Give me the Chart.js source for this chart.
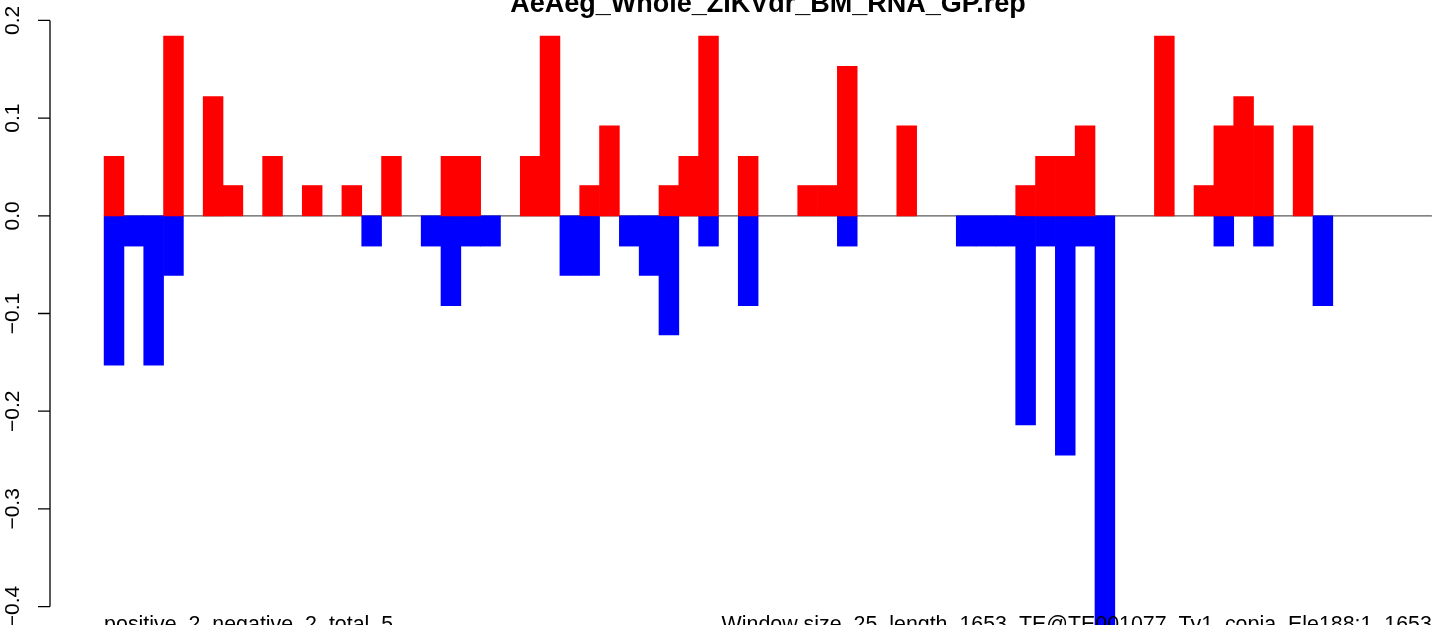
<!DOCTYPE html>
<html>
<head>
<meta charset="utf-8">
<title>AeAeg_Whole_ZIKVdr_BM_RNA_GP.rep</title>
<script src="https://cdn.jsdelivr.net/npm/chart.js@4.4.0/dist/chart.umd.min.js"></script>
<style>
  html, body { margin: 0; padding: 0; background: #fff; overflow: hidden; }
  #wrap { position: relative; width: 1444px; height: 625px; overflow: hidden; }
  #myChart { position: absolute; left: 0; top: -40px; }
</style>
</head>
<body>
<div id="wrap"><canvas id="myChart" width="1500" height="720"></canvas></div>
<script>
var title = "AeAeg_Whole_ZIKVdr_BM_RNA_GP.rep";
var leftNote = "positive_2_negative_2_total_5";
var rightNote = "Window size_25_length_1653_TE@TE001077_Ty1_copia_Ele188:1_1653";

// one value per window, 67 windows
var positive = [0.061, 0, 0, 0.184, 0, 0.122, 0.031, 0, 0.061, 0,
                0.031, 0, 0.031, 0, 0.061, 0, 0, 0.061, 0.061, 0,
                0, 0.061, 0.184, 0, 0.031, 0.092, 0, 0, 0.031, 0.061,
                0.184, 0, 0.061, 0, 0, 0.031, 0.031, 0.153, 0, 0,
                0.092, 0, 0, 0, 0, 0, 0.031, 0.061, 0.061, 0.092,
                0, 0, 0, 0.184, 0, 0.031, 0.092, 0.122, 0.092, 0,
                0.092, 0, 0, 0, 0, 0, 0];
var negative = [-0.153, -0.031, -0.153, -0.061, 0, 0, 0, 0, 0, 0,
                0, 0, 0, -0.031, 0, 0, -0.031, -0.092, -0.031, -0.031,
                0, 0, 0, -0.061, -0.061, 0, -0.031, -0.061, -0.122, 0,
                -0.031, 0, -0.092, 0, 0, 0, 0, -0.031, 0, 0,
                0, 0, 0, -0.031, -0.031, -0.031, -0.214, -0.031, -0.245, -0.031,
                -0.428, 0, 0, 0, 0, 0, -0.031, 0, -0.031, 0,
                0, -0.092, 0, 0, 0, 0, 0];
var yTicks = [-0.4, -0.3, -0.2, -0.1, 0.0, 0.1, 0.2];
var yTickLabels = ["\u22120.4", "\u22120.3", "\u22120.2", "\u22120.1", "0.0", "0.1", "0.2"];

var FONT = '"Liberation Sans", Arial, Helvetica, sans-serif';

function toPoints(arr) {
    return arr.map(function(v, i) { return { x: i, y: v === 0 ? null : v }; });
}

// R style axis, title and margin notes
var rDecor = {
    id: 'rDecor',
    afterDraw: function(chart) {
        var c = chart.ctx, xs = chart.scales.x, ys = chart.scales.y, area = chart.chartArea;
        var ax = area.left - 1;
        c.save();
        c.strokeStyle = '#000';
        c.lineWidth = 1.3;
        c.beginPath();
        c.moveTo(ax, ys.getPixelForValue(yTicks[0]));
        c.lineTo(ax, ys.getPixelForValue(yTicks[yTicks.length - 1]));
        yTicks.forEach(function(t) {
            var py = ys.getPixelForValue(t);
            c.moveTo(ax - 12, py);
            c.lineTo(ax, py);
        });
        c.stroke();

        c.fillStyle = '#000';
        c.font = '21px ' + FONT;
        c.textAlign = 'center';
        c.textBaseline = 'alphabetic';
        yTicks.forEach(function(t, i) {
            c.save();
            c.translate(ax - 31, ys.getPixelForValue(t));
            c.rotate(-Math.PI / 2);
            c.fillText(yTickLabels[i], 0, 0);
            c.restore();
        });

        c.font = 'bold 27px ' + FONT;
        c.fillText(title, (area.left + area.right) / 2, 52);

        c.font = '21.4px ' + FONT;
        c.textAlign = 'left';
        c.fillText(leftNote, xs.getPixelForValue(-0.5), 671);
        c.textAlign = 'right';
        c.fillText(rightNote, xs.getPixelForValue(positive.length - 0.5), 671);
        c.restore();
    }
};

var ctx = document.getElementById('myChart').getContext('2d');
var chart = new Chart(ctx, {
    type: 'bar',
    data: {
        datasets: [{
                label: 'positive',
                data: toPoints(positive),
                backgroundColor: '#FF0000',
                borderWidth: 0,
                grouped: false,
                barPercentage: 1,
                categoryPercentage: 1,
                order: 1
            },
            {
                label: 'negative',
                data: toPoints(negative),
                backgroundColor: '#0000FF',
                borderWidth: 0,
                grouped: false,
                barPercentage: 1,
                categoryPercentage: 1,
                order: 2
            },
            {
                type: 'line',
                label: 'zero',
                data: [{ x: -0.5, y: 0 }, { x: positive.length - 0.5, y: 0 }],
                borderColor: '#5a5a5a',
                borderWidth: 1.3,
                pointRadius: 0,
                fill: false,
                order: 10
            }
        ]
    },
    options: {
        responsive: false,
        animation: false,
        layout: { padding: { left: 51, top: 37, right: 15, bottom: 50 } },
        plugins: { legend: { display: false }, tooltip: { enabled: false } },
        scales: {
            x: { type: 'linear', display: false, min: -3.18, max: 69.18, offset: false },
            y: { display: false, min: -0.424, max: 0.224 }
        }
    },
    plugins: [rDecor]
});
</script>
</body>
</html>
